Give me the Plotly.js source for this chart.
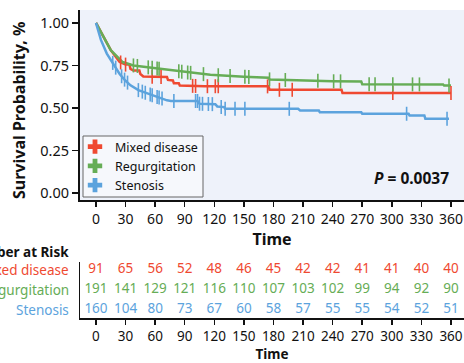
<!DOCTYPE html>
<html>
<head>
<meta charset="utf-8">
<script src="https://cdn.plot.ly/plotly-3.0.1.min.js"></script>
<style>html,body{margin:0;padding:0;background:#fff;} #chart{width:464px;height:363px;}</style>
</head>
<body>
<div id="chart"></div>
<script>
// ---- data ----
const groups = ["Mixed disease", "Regurgitation", "Stenosis"];
const colors = ["#EF4931", "#66AD56", "#5CA3DD"];

const mixedT = [0, 15, 24, 30, 34, 35, 38, 44, 45, 48, 72, 73, 78, 79, 84, 85, 110, 175, 176, 249, 250, 360];
const mixedS = [1.0, 0.84, 0.77, 0.755, 0.755, 0.73, 0.72, 0.72, 0.70, 0.685, 0.682, 0.665, 0.662, 0.645, 0.645, 0.632, 0.628, 0.627, 0.607, 0.607, 0.588, 0.588];
const mixedCens = [25, 30, 57, 66, 98, 101, 113, 121, 124, 174, 186, 199, 301, 360];

const regurgT = [0, 15, 27, 38, 65, 95, 116, 150, 175, 176, 195, 240, 269, 270, 352, 353, 360];
const regurgS = [1.0, 0.84, 0.77, 0.75, 0.73, 0.707, 0.695, 0.684, 0.678, 0.668, 0.664, 0.657, 0.655, 0.640, 0.638, 0.632, 0.632];
const regurgCens = [38, 42, 53, 57, 62, 64, 84, 87, 93, 96, 109, 124, 136, 151, 155, 176, 192, 225, 241, 248, 277, 283, 301, 321, 328, 358];

const stenT = [0, 5, 11, 17, 24, 30, 35, 43, 52, 63, 72, 76, 103, 105, 121, 123, 128, 130, 131, 205, 207, 226, 227, 269, 270, 317, 318, 333, 334, 358];
const stenS = [1.0, 0.9, 0.82, 0.765, 0.70, 0.66, 0.633, 0.605, 0.585, 0.563, 0.545, 0.541, 0.541, 0.525, 0.522, 0.509, 0.505, 0.505, 0.496, 0.495, 0.485, 0.485, 0.475, 0.475, 0.466, 0.466, 0.456, 0.456, 0.437, 0.437];
const stenCens = [17, 20, 26, 29, 32, 43, 47, 50, 55, 57, 62, 64, 67, 79, 101, 103, 105, 108, 114, 118, 127, 131, 141, 151, 196, 315, 356];

const riskTimes = [0, 30, 60, 90, 120, 150, 180, 210, 240, 270, 300, 330, 360];
const riskMixed = [91, 65, 56, 52, 48, 46, 45, 42, 42, 41, 41, 40, 40];
const riskRegurg = [191, 141, 129, 121, 116, 110, 107, 103, 102, 99, 94, 92, 90];
const riskSten = [160, 104, 80, 73, 67, 60, 58, 57, 55, 55, 54, 52, 51];

const tickVals = [0, 30, 60, 90, 120, 150, 180, 210, 240, 270, 300, 330, 360];
const yTickVals = [0, 0.25, 0.5, 0.75, 1.0];
const yTickText = ["0.00", "0.25", "0.50", "0.75", "1.00"];
const pText = "<b><i>P</i> = 0.0037</b>";
const yTitle = "<b>Survival Probability, %</b>";

// ---- helpers ----
function survAt(T, S, t) {
  for (let i = 0; i < T.length - 1; i++) {
    if (t >= T[i] && t <= T[i + 1]) {
      if (T[i + 1] === T[i]) return S[i + 1];
      const f = (t - T[i]) / (T[i + 1] - T[i]);
      return S[i] + f * (S[i + 1] - S[i]);
    }
  }
  return S[S.length - 1];
}

const curves = [
  {T: mixedT, S: mixedS, C: mixedCens},
  {T: regurgT, S: regurgS, C: regurgCens},
  {T: stenT, S: stenS, C: stenCens}
];

const FONT = "Noto Sans, Open Sans, sans-serif";
const traces = [];
curves.forEach((c, i) => {
  traces.push({
    x: c.T, y: c.S, type: "scatter", mode: "lines",
    line: {color: colors[i], width: 2.5, shape: "linear"},
    showlegend: false, hoverinfo: "skip", xaxis: "x", yaxis: "y"
  });
});
curves.forEach((c, i) => {
  traces.push({
    x: c.C, y: c.C.map(t => survAt(c.T, c.S, t)), type: "scatter", mode: "markers",
    marker: {symbol: "line-ns", size: 10, line: {color: colors[i], width: 1.6}},
    showlegend: false, hoverinfo: "skip", xaxis: "x", yaxis: "y"
  });
});
// legend entries
groups.forEach((g, i) => {
  traces.push({
    x: [null], y: [null], type: "scatter", mode: "markers", name: g,
    marker: {symbol: "cross", size: 12, color: colors[i]},
    xaxis: "x", yaxis: "y"
  });
});
// risk table
const riskRows = [riskMixed, riskRegurg, riskSten];
riskRows.forEach((r, i) => {
  traces.push({
    x: riskTimes, y: riskTimes.map(() => 2 - i), type: "scatter", mode: "text",
    text: r.map(String), textposition: "middle center",
    textfont: {family: FONT, size: 13.5, color: colors[i]},
    showlegend: false, hoverinfo: "skip", xaxis: "x2", yaxis: "y2"
  });
});

const H = 363, L = 80, PW = 384;
const py = p => (H - p) / H;
const px = p => (p - L) / PW;

const annotations = [
  {xref: "paper", yref: "y", x: 0.966, y: 0.088, xanchor: "right", yanchor: "middle",
   text: pText, showarrow: false, font: {family: FONT, size: 15.5, color: "#111"}},
  {xref: "paper", yref: "paper", x: px(19), y: py(111), xanchor: "center", yanchor: "middle",
   textangle: -90, text: yTitle, showarrow: false, font: {family: FONT, size: 16, color: "#111"}},
  {xref: "paper", yref: "paper", x: px(71), y: py(252), xanchor: "right", yanchor: "middle",
   text: "<b>Number at Risk</b>", showarrow: false, font: {family: FONT, size: 13.5, color: "#111"}}
];
groups.forEach((g, i) => {
  annotations.push({xref: "paper", yref: "y2", x: px(71), y: 2 - i, xanchor: "right", yanchor: "middle",
    text: g, showarrow: false, font: {family: FONT, size: 13.5, color: colors[i]}});
});

const layout = {
  width: 464, height: 363,
  margin: {l: 80, r: 0, t: 0, b: 0},
  paper_bgcolor: "#ffffff", plot_bgcolor: "#ffffff",
  font: {family: FONT, size: 14, color: "#111"},
  showlegend: true,
  legend: {x: px(75), y: py(132), xanchor: "left", yanchor: "top",
    bgcolor: "rgba(0,0,0,0)", borderwidth: 0,
    font: {family: FONT, size: 12.5, color: "#111"}, itemwidth: 30,
    tracegroupgap: 0},
  xaxis: {domain: [0, 1], range: [-16.2, 373.2], tickvals: tickVals, ticktext: tickVals.map(String),
    showgrid: false, zeroline: false, showline: true, linecolor: "#111", linewidth: 2,
    ticks: "outside", ticklen: 5, tickwidth: 1.5, tickcolor: "#111",
    tickfont: {family: FONT, size: 14, color: "#111"},
    title: {text: "<b>Time</b>", font: {family: FONT, size: 16, color: "#111"}, standoff: 6},
    anchor: "y"},
  yaxis: {domain: [py(200), py(10)], range: [-0.041, 1.076], tickvals: yTickVals, ticktext: yTickText,
    showgrid: false, zeroline: false, showline: true, linecolor: "#111", linewidth: 2,
    ticks: "outside", ticklen: 6, tickwidth: 1.5, tickcolor: "#111",
    tickfont: {family: FONT, size: 14.5, color: "#111"},
    anchor: "x"},
  xaxis2: {domain: [0, 1], range: [-16.2, 373.2], tickvals: tickVals, ticktext: tickVals.map(String),
    showgrid: false, zeroline: false, showline: true, linecolor: "#111", linewidth: 1.5,
    ticks: "outside", ticklen: 5, tickwidth: 1.5, tickcolor: "#111",
    tickfont: {family: FONT, size: 13.5, color: "#111"},
    title: {text: "<b>Time</b>", font: {family: FONT, size: 13.5, color: "#111"}, standoff: 1},
    anchor: "y2"},
  yaxis2: {domain: [py(318), py(262)], range: [-0.4, 2.4], showticklabels: false, ticks: "",
    showgrid: false, zeroline: false, showline: true, linecolor: "#111", linewidth: 1.5,
    anchor: "x2"},
  shapes: [
    {type: "rect", xref: "x domain", yref: "y domain", x0: 0, x1: 1, y0: 0, y1: 1,
     fillcolor: "#EEF2FA", line: {width: 0}, layer: "below"},
    {type: "rect", xref: "paper", yref: "paper", x0: px(83), x1: px(203), y0: py(197), y1: py(136),
     fillcolor: "#F6F8FC", line: {color: "#666", width: 1}, layer: "below"}
  ],
  annotations: annotations
};

Plotly.newPlot("chart", traces, layout, {staticPlot: true, displayModeBar: false});
</script>
</body>
</html>
